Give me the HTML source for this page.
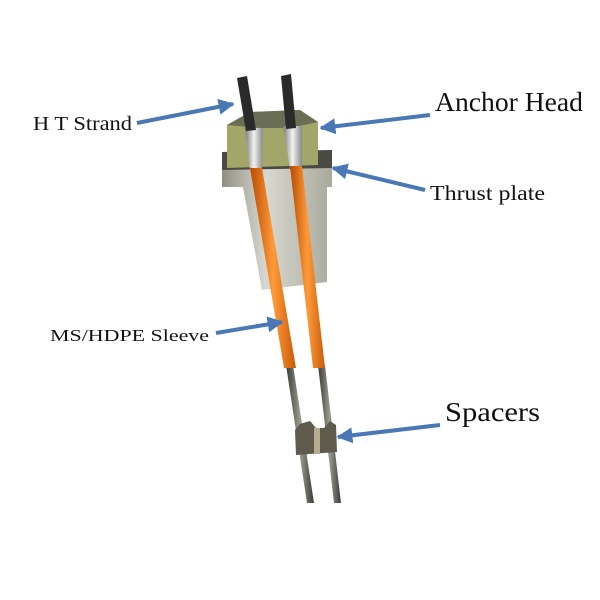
<!DOCTYPE html>
<html><head><meta charset="utf-8"><style>body{margin:0;background:#fff}svg{display:block}text{font-family:"Liberation Serif",serif;fill:#111}</style></head><body>
<svg width="600" height="600" viewBox="0 0 600 600">
<defs>
<linearGradient id="g" x1="0" x2="1"><stop offset="0" stop-color="#8f8f82"/><stop offset=".4" stop-color="#d8d8d0"/><stop offset="1" stop-color="#a9a99c"/></linearGradient>
<linearGradient id="o" x1="0" x2="1"><stop offset="0" stop-color="#b84a00"/><stop offset=".5" stop-color="#ff9a3a"/><stop offset="1" stop-color="#c85a08"/></linearGradient>
<linearGradient id="s" x1="0" x2="1"><stop offset="0" stop-color="#3a3a38"/><stop offset=".5" stop-color="#9a9a8e"/><stop offset="1" stop-color="#3a3a38"/></linearGradient>
<linearGradient id="k" x1="0" x2="1"><stop offset="0" stop-color="#777"/><stop offset=".5" stop-color="#f2f2f2"/><stop offset="1" stop-color="#888"/></linearGradient>
<marker id="a" viewBox="0 0 10 10" refX="9" refY="5" markerWidth="4" markerHeight="4" orient="auto"><path d="M0 0L10 5L0 10z" fill="#4a78b5"/></marker>
</defs>
<polygon points="286,365 293,365 314,503 307,503" fill="url(#s)"/>
<polygon points="318,365 325,365 341,503 334,503" fill="url(#s)"/>
<polygon points="222,152 332,150 332,187 327,187 327,282 262,290 243,187 222,187" fill="url(#g)"/>
<polygon points="222,152 332,150 332,168 222,170" fill="#4a4a44"/>
<polygon points="227,125 250,112 300,110 318,122 318,165 227,168" fill="#a2a668"/>
<polygon points="227,125 250,112 300,110 318,122 290,128 260,128" fill="#6a6e55"/>
<polygon points="245,128 263,128 262,170 250,170" fill="url(#k)"/>
<polygon points="283,126 302,126 302,168 290,168" fill="url(#k)"/>
<polygon points="250,168 262,168 296,368 284,368" fill="url(#o)"/>
<polygon points="290,166 302,166 325,368 313,368" fill="url(#o)"/>
<polygon points="237,78 247,76 256,130 246,131" fill="#2a2a2a"/>
<polygon points="281,76 291,74 296,128 286,129" fill="#2a2a2a"/>
<polygon points="300,424 310,421 316,428 324,428 330,421 336,425 337,452 296,455 295,430" fill="#5e5a4c"/>
<rect x="314" y="428" width="6" height="26" fill="#b5ad92"/>
<g stroke="#4a78b5" stroke-width="4" fill="none" marker-end="url(#a)">
<line x1="137" y1="123" x2="233" y2="104"/>
<line x1="430" y1="115" x2="321" y2="128"/>
<line x1="425" y1="190" x2="333" y2="168"/>
<line x1="216" y1="333" x2="282" y2="322"/>
<line x1="440" y1="425" x2="338" y2="437"/>
</g>
<text x="33" y="130" font-size="20" textLength="99" lengthAdjust="spacingAndGlyphs">H T Strand</text>
<text x="435" y="111" font-size="27" textLength="148" lengthAdjust="spacingAndGlyphs">Anchor Head</text>
<text x="430" y="200" font-size="21" textLength="115" lengthAdjust="spacingAndGlyphs">Thrust plate</text>
<text x="50" y="341" font-size="17" textLength="159" lengthAdjust="spacingAndGlyphs">MS/HDPE Sleeve</text>
<text x="445" y="421" font-size="27" textLength="95" lengthAdjust="spacingAndGlyphs">Spacers</text>
</svg>
</body></html>
